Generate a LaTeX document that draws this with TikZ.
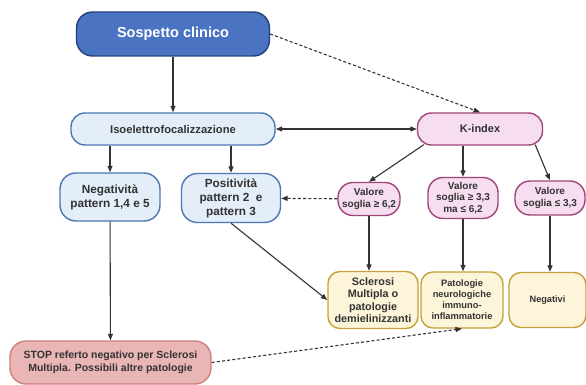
\documentclass[tikz,border=0pt]{standalone}
\usepackage{fontspec}
\setmainfont{Liberation Sans}
\usetikzlibrary{arrows.meta}
\definecolor{sblue}{HTML}{4A74C2}
\definecolor{sbluedk}{HTML}{24407A}
\definecolor{lblue}{HTML}{E4EEF9}
\definecolor{lbluedk}{HTML}{4C76B4}
\definecolor{pinkf}{HTML}{F6DDF0}
\definecolor{pinkd}{HTML}{A0457A}
\definecolor{yelf}{HTML}{FCF5DA}
\definecolor{yeld}{HTML}{C6A03A}
\definecolor{redf}{HTML}{E9B5B5}
\definecolor{redd}{HTML}{CC8080}
\definecolor{txt}{HTML}{333333}
\tikzset{
  box/.style={draw, line width=1.4pt, align=center, inner sep=1pt, font=\bfseries, text=txt},
  bluebox/.style={box, fill=lblue, draw=lbluedk},
  pinkbox/.style={box, fill=pinkf, draw=pinkd},
  yelbox/.style={box, fill=yelf, draw=yeld},
  arr/.style={-{Triangle[length=6.5pt,width=5pt]}, line width=1.1pt, draw=txt},
  darr/.style={arr, dash pattern=on 3pt off 2.2pt},
}
\begin{document}
\begin{tikzpicture}[x=1pt,y=-1pt]
\useasboundingbox[fill=white] (0,0) rectangle (586,385);
\node[box, fill=sblue, draw=sbluedk, text=white, minimum width=193pt, minimum height=44pt, rounded corners=16pt, font=\bfseries\fontsize{14.5}{18}\selectfont] (sc) at (173,34) {Sospetto clinico};
\node[bluebox, minimum width=204pt, minimum height=32pt, rounded corners=14pt, font=\bfseries\fontsize{11.2}{13}\selectfont] (iso) at (173,129) {Isoelettrofocalizzazione};
\node[pinkbox, minimum width=125pt, minimum height=32pt, rounded corners=14pt, font=\bfseries\fontsize{11}{13}\selectfont] (ki) at (480,129) {K-index};
\node[bluebox, minimum width=100pt, minimum height=48pt, rounded corners=16pt, font=\bfseries\fontsize{11.8}{14}\selectfont] (neg) at (110,197) {Negatività\\pattern 1,4 e 5};
\node[bluebox, minimum width=99pt, minimum height=49pt, rounded corners=16pt, font=\bfseries\fontsize{11.8}{14}\selectfont] (pos) at (231,198) {Positività\\pattern 2~ e\\pattern 3};
\node[pinkbox, minimum width=62pt, minimum height=33pt, rounded corners=15pt, font=\bfseries\fontsize{10}{11.5}\selectfont] (v1) at (369,199) {Valore\\soglia ≥ 6,2};
\node[pinkbox, minimum width=70pt, minimum height=41pt, rounded corners=15pt, font=\bfseries\fontsize{10}{11.5}\selectfont] (v2) at (463,198) {Valore\\soglia ≥ 3,3\\ma ≤ 6,2};
\node[pinkbox, minimum width=70pt, minimum height=34pt, rounded corners=15pt, font=\bfseries\fontsize{10}{11.5}\selectfont] (v3) at (550,198) {Valore\\soglia ≤ 3,3};
\node[yelbox, minimum width=90pt, minimum height=57pt, rounded corners=12pt, font=\bfseries\fontsize{10.8}{12.5}\selectfont] (sm) at (373,300) {Sclerosi\\Multipla o\\patologie\\demielinizzanti};
\node[yelbox, minimum width=82pt, minimum height=56pt, rounded corners=12pt, font=\bfseries\fontsize{9.3}{11}\selectfont] (pn) at (462,300) {Patologie\\neurologiche\\immuno-\\inflammatorie};
\node[yelbox, minimum width=77pt, minimum height=55pt, rounded corners=12pt, font=\bfseries\fontsize{9.2}{11}\selectfont] (ng) at (547.5,300) {Negativi};
\node[box, fill=redf, draw=redd, minimum width=201pt, minimum height=43pt, rounded corners=16pt, font=\bfseries\fontsize{10.5}{13}\selectfont] (stop) at (110.5,362.5) {STOP referto negativo per Sclerosi\\Multipla. Possibili altre patologie};
\draw[arr] (sc) -- (iso);
\draw[darr] (sc.east) -- (ki.north);
\draw[arr, {Triangle[length=6.5pt,width=5pt]}-{Triangle[length=6.5pt,width=5pt]}] (iso) -- (ki);
\draw[arr] (iso.south -| neg) -- (neg);
\draw[arr] (iso.south -| pos) -- (pos);
\draw[arr] (ki.south west) ++(7,-1) -- (v1.north);
\draw[arr] (ki.south -| v2) -- (v2);
\draw[arr] (ki.south east) ++(-8,-1) -- (v3.north);
\draw[darr] (v1) -- (pos);
\draw[arr] (v1) -- (v1 |- sm.north);
\draw[arr] (v2) -- (v2 |- pn.north);
\draw[arr] (v3) -- (v3 |- ng.north);
\draw[arr] (pos.south) -- (sm.west);
\draw[arr] (neg) -- (stop);
\draw[darr] (stop.east) -- (pn.south);
\end{tikzpicture}
\end{document}
